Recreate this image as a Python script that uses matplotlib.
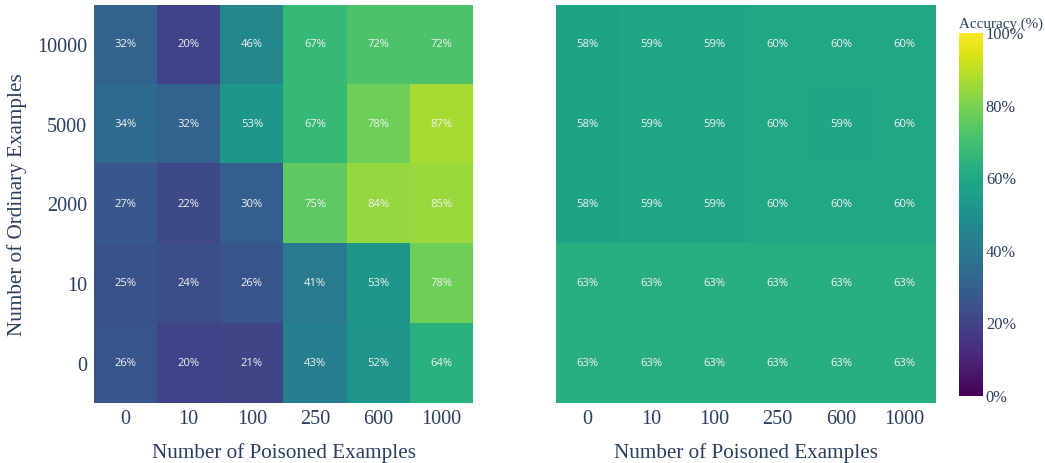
import matplotlib.pyplot as plt
import numpy as np

poisoned = ['0', '10', '100', '250', '600', '1000']
ordinary = ['10000', '5000', '2000', '10', '0']

acc_left = np.array([
    [32, 20, 46, 67, 72, 72],
    [34, 32, 53, 67, 78, 87],
    [27, 22, 30, 75, 84, 85],
    [25, 24, 26, 41, 53, 78],
    [26, 20, 21, 43, 52, 64],
])
acc_right = np.array([
    [58, 59, 59, 60, 60, 60],
    [58, 59, 59, 60, 59, 60],
    [58, 59, 59, 60, 60, 60],
    [63, 63, 63, 63, 63, 63],
    [63, 63, 63, 63, 63, 63],
])

ink = '#2a3f5f'
serif = ['Liberation Serif', 'DejaVu Serif']

fig = plt.figure(figsize=(10.45, 4.63), dpi=100)
W, H = 1045, 463


def box(x0, y0, x1, y1):
    return [x0 / W, 1 - y1 / H, (x1 - x0) / W, (y1 - y0) / H]


ax1 = fig.add_axes(box(94, 5, 473, 403.5))
ax2 = fig.add_axes(box(556, 5, 936, 403.5))
cax = fig.add_axes(box(959, 33, 983, 396))

for ax, data, show_y in [(ax1, acc_left, True), (ax2, acc_right, False)]:
    im = ax.imshow(data, cmap='viridis', vmin=0, vmax=100, aspect='auto',
                   interpolation='nearest')
    for i in range(data.shape[0]):
        for j in range(data.shape[1]):
            ax.text(j, i, '{0}%'.format(data[i, j]), ha='center', va='center',
                    color='#f2f2f2', fontsize=8.1, family='Open Sans')
    ax.set_xticks(range(len(poisoned)))
    ax.set_xticklabels(poisoned, family=serif, fontsize=14.6, color=ink)
    ax.set_yticks(range(len(ordinary)))
    if show_y:
        ax.set_yticklabels(ordinary, family=serif, fontsize=14.6, color=ink)
        ax.set_ylabel('Number of Ordinary Examples', family=serif,
                      fontsize=15.2, color=ink, labelpad=7)
    else:
        ax.set_yticklabels([])
    ax.tick_params(length=0, pad=5)
    ax.set_xlabel('Number of Poisoned Examples', family=serif, fontsize=15.2,
                  color=ink, labelpad=10)
    for s in ax.spines.values():
        s.set_visible(False)

cb = fig.colorbar(im, cax=cax, ticks=[0, 20, 40, 60, 80, 100])
cb.outline.set_visible(False)
cb.ax.set_yticklabels(['0%', '20%', '40%', '60%', '80%', '100%'],
                      family=serif, fontsize=11.8, color=ink)
cb.ax.tick_params(length=0, pad=2)
cax.set_title('Accuracy (%)', family=serif, fontsize=10.8, color=ink,
              loc='left', pad=4)

fig.savefig('out.png', dpi=100)
